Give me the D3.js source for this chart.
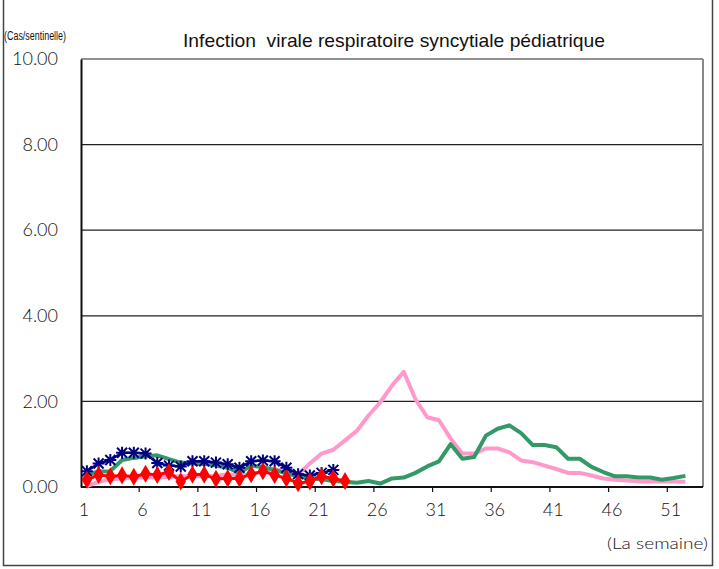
<!DOCTYPE html>
<html>
<head>
<meta charset="utf-8">
<script src="https://cdn.jsdelivr.net/npm/d3@7"></script>
<style>
  body { margin: 0; background: #fff; }
  svg { display: block; }
</style>
</head>
<body>
<svg id="chart" width="719" height="569"></svg>
<script>
// weeks on the category axis
const weeks = d3.range(1, 54);
const tickWeeks = [1, 6, 11, 16, 21, 26, 31, 36, 41, 46, 51];
const yTicks = [0, 2, 4, 6, 8, 10];

// series values, per week starting at week 1
const pinkValues = [0.02, 0.12, 0.18, 0.2, 0.22, 0.22, 0.22, 0.24, 0.25, 0.25,
  0.25, 0.25, 0.3, 0.27, 0.3, 0.35, 0.42, 0.36, 0.3, 0.55,
  0.78, 0.87, 1.09, 1.31, 1.67, 1.98, 2.37, 2.69, 2.05, 1.63,
  1.56, 1.13, 0.78, 0.78, 0.9, 0.9, 0.81, 0.62, 0.58, 0.5,
  0.42, 0.33, 0.33, 0.27, 0.2, 0.17, 0.15, 0.13, 0.13, 0.13,
  0.13, 0.12];
const greenValues = [0.3, 0.36, 0.37, 0.63, 0.68, 0.72, 0.74, 0.65, 0.57, 0.55,
  0.54, 0.5, 0.45, 0.33, 0.5, 0.46, 0.4, 0.32, 0.25, 0.2,
  0.18, 0.14, 0.12, 0.1, 0.14, 0.08, 0.2, 0.22, 0.33, 0.48,
  0.6, 1.0, 0.66, 0.7, 1.2, 1.36, 1.44, 1.26, 0.98, 0.98,
  0.93, 0.66, 0.66, 0.47, 0.35, 0.25, 0.25, 0.22, 0.22, 0.17,
  0.21, 0.26];
const navyValues = [0.37, 0.55, 0.63, 0.8, 0.8, 0.78, 0.56, 0.5, 0.48, 0.6,
  0.6, 0.57, 0.53, 0.45, 0.6, 0.62, 0.6, 0.45, 0.3, 0.27,
  0.33, 0.4];
const redValues = [0.17, 0.28, 0.25, 0.27, 0.24, 0.31, 0.28, 0.35, 0.13, 0.29,
  0.29, 0.19, 0.2, 0.2, 0.3, 0.37, 0.28, 0.2, 0.09, 0.13,
  0.25, 0.2, 0.14];

const margin = { left: 81, top: 59, right: 16, bottom: 82 };
const width = 719 - margin.left - margin.right;
const height = 569 - margin.top - margin.bottom;
const numFont = 'Lato, "DejaVu Sans", sans-serif';

const svg = d3.select('#chart');

// outer frame
svg.append('path')
  .attr('d', 'M3.5,0 V565.5 H712.5 V0')
  .attr('fill', 'none')
  .attr('stroke', '#444')
  .attr('stroke-width', 1.5);

const g = svg.append('g')
  .attr('transform', `translate(${margin.left},${margin.top})`);

const x = d3.scaleBand().domain(weeks).range([0, width]);
const y = d3.scaleLinear().domain([0, 10]).range([height, 0]);
const cx = (w) => x(w) + x.bandwidth() / 2;

// gridlines
g.append('g')
  .selectAll('line')
  .data(yTicks.filter((d) => d > 0 && d < 10))
  .join('line')
  .attr('x1', 0)
  .attr('x2', width)
  .attr('y1', (d) => y(d))
  .attr('y2', (d) => y(d))
  .attr('stroke', '#222')
  .attr('stroke-width', 1.2);

// plot border
g.append('line').attr('x1', 0).attr('x2', width).attr('y1', 0).attr('y2', 0)
  .attr('stroke', '#222').attr('stroke-width', 1.2);
g.append('line').attr('x1', width).attr('x2', width).attr('y1', 0).attr('y2', height)
  .attr('stroke', '#888').attr('stroke-width', 2);

// y axis
const yAxis = g.append('g')
  .call(d3.axisLeft(y).tickValues(yTicks).tickSize(0).tickPadding(23)
    .tickFormat(d3.format('.2f')));
yAxis.select('.domain').attr('stroke', '#111').attr('stroke-width', 2);
yAxis.selectAll('text')
  .attr('font-family', numFont)
  .attr('font-weight', 300)
  .attr('font-size', 18)
  .attr('fill', '#111');

// x axis: ticks on category boundaries every 5 weeks
const xAxisG = g.append('g').attr('transform', `translate(0,${height})`);
xAxisG.append('line')
  .attr('x1', 0).attr('x2', width)
  .attr('stroke', '#111').attr('stroke-width', 2);
xAxisG.selectAll('.tickmark')
  .data(tickWeeks.slice(1))
  .join('line')
  .attr('class', 'tickmark')
  .attr('x1', (d) => x(d) - 0.5).attr('x2', (d) => x(d) - 0.5)
  .attr('y1', 0).attr('y2', 5)
  .attr('stroke', '#111').attr('stroke-width', 1.2);
xAxisG.selectAll('.ticklabel')
  .data(tickWeeks)
  .join('text')
  .attr('class', 'ticklabel')
  .attr('x', (d) => cx(d) - 3)
  .attr('y', 29)
  .attr('text-anchor', 'middle')
  .attr('font-family', numFont)
  .attr('font-weight', 300)
  .attr('font-size', 18)
  .attr('fill', '#111')
  .text((d) => d);

// series
const line = d3.line()
  .x((d, i) => cx(i + 1))
  .y((d) => y(d));

const drawLine = (values, color, w) =>
  g.append('path')
    .datum(values)
    .attr('fill', 'none')
    .attr('stroke', color)
    .attr('stroke-width', w)
    .attr('stroke-linejoin', 'round')
    .attr('d', line);

drawLine(pinkValues, '#ff99cc', 4);
drawLine(greenValues, '#339966', 4);
drawLine(navyValues, '#000080', 2.5);

// asterisk markers
const star = 'M-6,0H6M0,-6V6M-5,-5L5,5M-5,5L5,-5';
g.append('g')
  .selectAll('path')
  .data(navyValues)
  .join('path')
  .attr('transform', (d, i) => `translate(${cx(i + 1)},${y(d)})`)
  .attr('d', star)
  .attr('stroke', '#000080')
  .attr('stroke-width', 2)
  .attr('fill', 'none');

drawLine(redValues, '#ff0000', 3);
g.append('g')
  .selectAll('path')
  .data(redValues)
  .join('path')
  .attr('transform', (d, i) => `translate(${cx(i + 1)},${y(d)})`)
  .attr('d', d3.symbol(d3.symbolDiamond, 95))
  .attr('fill', '#ff0000');

// texts
svg.append('text')
  .attr('x', 183)
  .attr('y', 47)
  .attr('font-family', '"Liberation Sans", Arial, sans-serif')
  .attr('font-size', 19)
  .attr('fill', '#111')
  .attr('xml:space', 'preserve')
  .attr('textLength', 422)
  .attr('lengthAdjust', 'spacingAndGlyphs')
  .text('Infection  virale respiratoire syncytiale pédiatrique');

svg.append('text')
  .attr('x', 4)
  .attr('y', 40)
  .attr('font-family', '"Liberation Sans", Arial, sans-serif')
  .attr('font-size', 12)
  .attr('fill', '#111')
  .attr('textLength', 62)
  .attr('lengthAdjust', 'spacingAndGlyphs')
  .text('(Cas/sentinelle)');

svg.append('text')
  .attr('x', 607)
  .attr('y', 549)
  .attr('font-family', numFont)
  .attr('font-weight', 300)
  .attr('font-size', 16)
  .attr('fill', '#111')
  .attr('textLength', 101)
  .attr('lengthAdjust', 'spacingAndGlyphs')
  .text('(La semaine)');
</script>
</body>
</html>
